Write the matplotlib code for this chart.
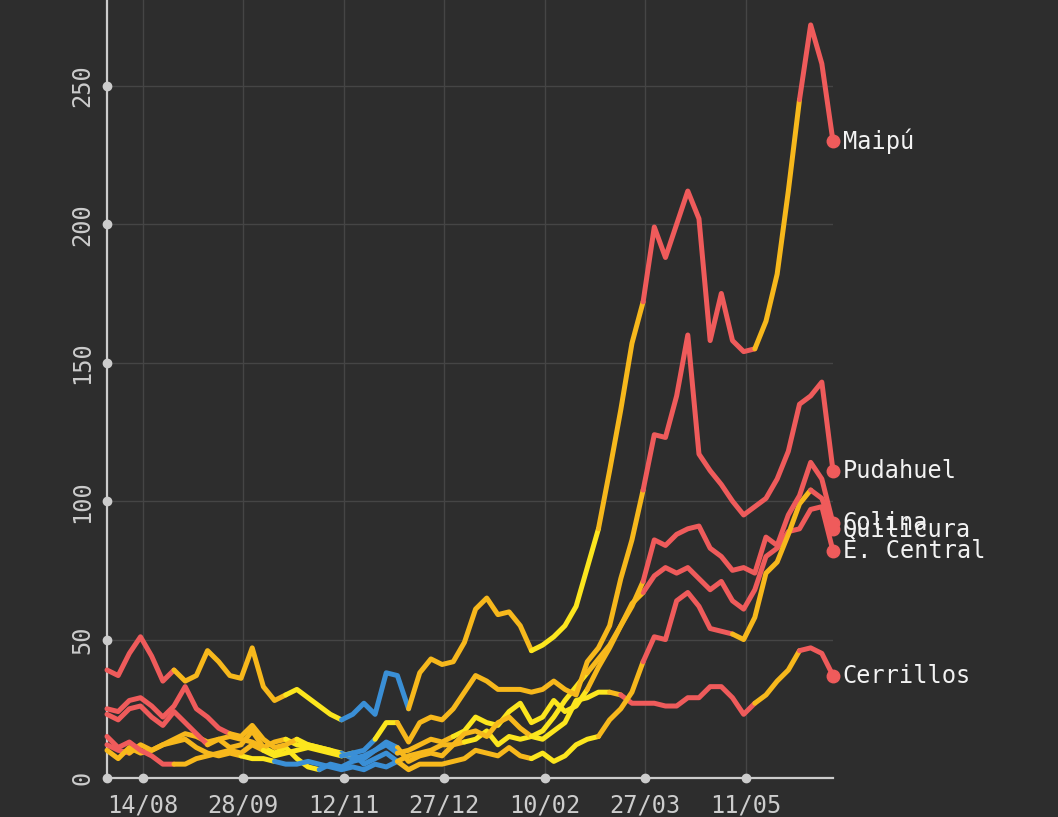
import numpy as np
import pandas as pd
import matplotlib
matplotlib.use("Agg")
import matplotlib.pyplot as plt
import matplotlib.dates as mdates

# fechas de los informes (cada 5 dias)
dates = pd.date_range("2020-07-29", periods=66, freq="5D")

# casos activos por comuna
maipu = [39, 37, 45, 51, 44, 35, 39, 35, 37, 46,
         42, 37, 36, 47, 33, 28, 30, 32, 29, 26,
         23, 21, 23, 27, 23, 38, 37, 25, 38, 43,
         41, 42, 49, 61, 65, 59, 60, 55, 46, 48,
         51, 55, 62, 76, 90, 111, 133, 157, 172, 199,
         188, 200, 212, 202, 158, 175, 158, 154, 155, 165,
         182, 212, 245, 272, 258, 230]
pudahuel = [25, 24, 28, 29, 26, 22, 26, 33, 25, 22,
            18, 16, 15, 19, 14, 11, 12, 14, 12, 11,
            10, 8, 9, 10, 14, 20, 20, 13, 20, 22,
            21, 25, 31, 37, 35, 32, 32, 32, 31, 32,
            35, 32, 30, 42, 47, 55, 72, 86, 104, 124,
            123, 138, 160, 117, 111, 106, 100, 95, 98, 101,
            108, 118, 135, 138, 143, 111]
colina = [15, 11, 13, 10, 8, 5, 5, 5, 7, 8,
          9, 10, 9, 12, 10, 8, 9, 10, 11, 10,
          9, 8, 9, 5, 7, 9, 6, 8, 9, 10,
          12, 12, 16, 17, 15, 20, 22, 18, 15, 17,
          22, 28, 33, 38, 43, 48, 55, 62, 71, 86,
          84, 88, 90, 91, 83, 80, 75, 76, 74, 87,
          84, 95, 102, 114, 108, 92]
quilicura = [10, 7, 11, 9, 10, 12, 13, 14, 11, 9,
             8, 9, 8, 7, 7, 6, 5, 5, 6, 5,
             4, 3, 4, 3, 5, 4, 6, 3, 5, 5,
             5, 6, 7, 10, 9, 8, 11, 8, 7, 9,
             6, 8, 12, 14, 15, 21, 25, 31, 42, 51,
             50, 64, 67, 62, 54, 53, 52, 50, 58, 74,
             78, 88, 99, 104, 101, 90]
e_central = [23, 21, 25, 26, 22, 19, 24, 20, 16, 12,
             14, 15, 14, 13, 11, 13, 14, 12, 12, 11,
             10, 9, 7, 8, 10, 12, 9, 10, 12, 14,
             13, 15, 17, 22, 20, 19, 24, 27, 20, 22,
             28, 24, 26, 32, 40, 47, 55, 63, 67, 73,
             76, 74, 76, 72, 68, 71, 64, 61, 68, 80,
             83, 89, 90, 97, 98, 82]
cerrillos = [12, 10, 9, 12, 10, 12, 14, 16, 15, 13,
             14, 11, 12, 17, 11, 9, 11, 7, 4, 3,
             5, 4, 6, 7, 10, 13, 11, 6, 8, 9,
             8, 12, 13, 14, 17, 12, 15, 14, 15, 14,
             17, 20, 28, 29, 31, 31, 30, 27, 27, 27,
             26, 26, 29, 29, 33, 33, 29, 23, 27, 30,
             35, 39, 46, 47, 45, 37]

# fase del plan Paso a Paso (codigo, cantidad de informes seguidos)
maipu_fase = [("R", 7), ("O", 10), ("Y", 5), ("B", 6), ("O", 11), ("Y", 6),
              ("O", 4), ("R", 10), ("O", 4), ("R", 3)]
pudahuel_fase = [("R", 12), ("O", 6), ("Y", 4), ("B", 3), ("Y", 2), ("O", 22), ("R", 17)]
colina_fase = [("R", 7), ("O", 8), ("Y", 8), ("B", 4), ("O", 12), ("Y", 5), ("O", 5), ("R", 17)]
quilicura_fase = [("O", 13), ("Y", 3), ("B", 11), ("O", 12), ("Y", 6), ("O", 4),
                  ("R", 8), ("O", 7), ("R", 2)]
e_central_fase = [("R", 10), ("O", 7), ("Y", 5), ("B", 5), ("O", 5), ("Y", 12), ("O", 5), ("R", 17)]
cerrillos_fase = [("R", 3), ("O", 12), ("Y", 5), ("B", 7), ("O", 6), ("Y", 13), ("O", 1),
                  ("R", 12), ("O", 4), ("R", 3)]

colores = {"R": "#ef5b5b", "O": "#f7b81c", "Y": "#fce61e", "B": "#3a8fd6"}

series = [
    ("Cerrillos", cerrillos, cerrillos_fase),
    ("E. Central", e_central, e_central_fase),
    ("Quilicura", quilicura, quilicura_fase),
    ("Colina", colina, colina_fase),
    ("Pudahuel", pudahuel, pudahuel_fase),
    ("Maipú", maipu, maipu_fase),
]

xticks = pd.to_datetime(["2020-08-14", "2020-09-28", "2020-11-12", "2020-12-27",
                         "2021-02-10", "2021-03-27", "2021-05-11"])
yticks = [0, 50, 100, 150, 200, 250]

bg = "#2d2d2d"
fg = "#cccccc"
mono = "DejaVu Sans Mono"

fig = plt.figure(figsize=(10.58, 8.17), dpi=100, facecolor=bg)
ax = fig.add_axes([107 / 1058, 39 / 817, 726 / 1058, 778 / 817])
ax.set_facecolor(bg)

for nombre, vals, fase in series:
    codes = "".join(c * n for c, n in fase)
    start = 0
    for i in range(1, len(vals) + 1):
        if i == len(vals) or codes[i] != codes[start]:
            lo = max(start - 1, 0)
            ax.plot(dates[lo:i], vals[lo:i], color=colores[codes[start]], lw=3.6,
                    solid_joinstyle="round", solid_capstyle="round", zorder=3,
                    clip_on=False)
            start = i
    ax.plot(dates[-1], vals[-1], "o", color=colores[codes[-1]], ms=9, zorder=4,
            clip_on=False)
    ax.annotate(nombre, (dates[-1], vals[-1]), xytext=(7, 0), textcoords="offset points",
                va="center", ha="left", family=mono, fontsize=17, color="#f2f2f2",
                annotation_clip=False)

ax.set_xlim(dates[0], dates[-1])
ax.set_ylim(0, 281)
ax.set_xticks(xticks)
ax.xaxis.set_major_formatter(mdates.DateFormatter("%d/%m"))
ax.set_yticks(yticks)
ax.grid(True, color="#454545", lw=1)
ax.set_axisbelow(True)

for s in ["top", "right"]:
    ax.spines[s].set_visible(False)
for s in ["left", "bottom"]:
    ax.spines[s].set_color(fg)
    ax.spines[s].set_linewidth(1.6)

ax.tick_params(axis="both", length=0, colors=fg, labelsize=17)
ax.tick_params(axis="x", pad=11)
ax.tick_params(axis="y", pad=9, labelrotation=90)
for lab in ax.get_xticklabels() + ax.get_yticklabels():
    lab.set_family(mono)
plt.setp(ax.get_yticklabels(), va="center")

# puntos en las marcas de los ejes
ax.plot(xticks, [0] * len(xticks), transform=ax.get_xaxis_transform(), ls="none",
        marker="o", ms=6, color=fg, clip_on=False, zorder=5)
ax.plot([0] * len(yticks), yticks, transform=ax.get_yaxis_transform(), ls="none",
        marker="o", ms=6, color=fg, clip_on=False, zorder=5)

fig.savefig("out.png", dpi=100, facecolor=bg)
